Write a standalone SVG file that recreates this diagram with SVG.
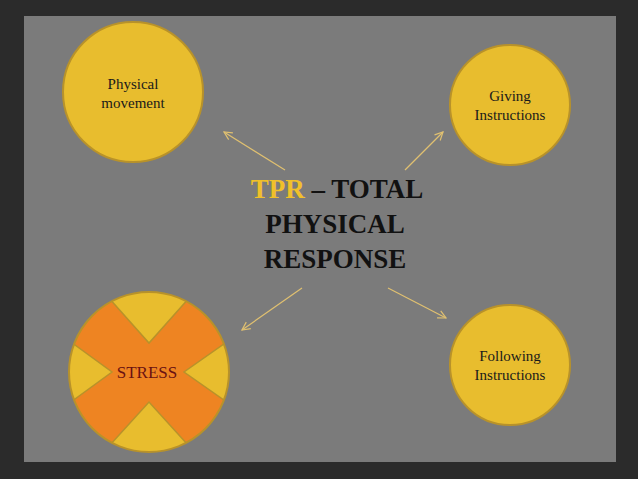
<svg xmlns="http://www.w3.org/2000/svg" width="638" height="479" viewBox="0 0 638 479">
<defs>
<style>
.c{fill:#e8bd2e;stroke:#b8922a;stroke-width:2}
.t{font-family:"Liberation Serif",serif;font-size:15px;fill:#1a1a1a;text-anchor:middle}
.h{font-family:"Liberation Serif",serif;font-size:27px;font-weight:bold;fill:#111;text-anchor:middle}
.a{stroke:#e0c070;stroke-width:1.2;fill:none;marker-end:url(#m)}
</style>
<marker id="m" markerWidth="10" markerHeight="10" refX="9" refY="5" orient="auto" markerUnits="userSpaceOnUse"><path d="M1,1 L9,5 L1,9" fill="none" stroke="#e0c070" stroke-width="1.2"/></marker>
<clipPath id="cp"><circle cx="149" cy="372" r="80"/></clipPath>
</defs>
<rect width="638" height="479" fill="#2b2b2b"/>
<rect x="24" y="16" width="592" height="446" fill="#7b7b7b"/>
<g id="connectors">
<line class="a" x1="285" y1="170" x2="224" y2="132"/>
<line class="a" x1="405" y1="170" x2="443" y2="132"/>
<line class="a" x1="302" y1="288" x2="242" y2="330"/>
<line class="a" x1="388" y1="288" x2="446" y2="318"/>
</g>
<g id="title">
<text class="h" x="337" y="198"><tspan fill="#f0c02a">TPR</tspan> – TOTAL</text>
<text class="h" x="335" y="233">PHYSICAL</text>
<text class="h" x="335" y="268">RESPONSE</text>
</g>
<g id="physical">
<circle class="c" cx="133" cy="92" r="70"/>
<text class="t" x="133" y="89">Physical</text>
<text class="t" x="133" y="108">movement</text>
</g>
<g id="giving">
<circle class="c" cx="510" cy="105" r="60"/>
<text class="t" x="510" y="101">Giving</text>
<text class="t" x="510" y="120">Instructions</text>
</g>
<g id="stress">
<circle cx="149" cy="372" r="80" fill="#ee8422"/>
<g clip-path="url(#cp)" fill="#e8bd2e" stroke="#b8922a" stroke-width="1.5">
<polygon points="100,288 198,288 149,343"/>
<polygon points="100,456 198,456 149,402"/>
<polygon points="60,334 112,372 60,410"/>
<polygon points="238,334 184,372 238,410"/>
</g>
<circle cx="149" cy="372" r="80" fill="none" stroke="#b8922a" stroke-width="2"/>
<text class="t" x="147" y="378" style="font-size:17px;fill:#6b1212">STRESS</text>
</g>
<g id="following">
<circle class="c" cx="510" cy="365" r="60"/>
<text class="t" x="510" y="361">Following</text>
<text class="t" x="510" y="380">Instructions</text>
</g>
</svg>
